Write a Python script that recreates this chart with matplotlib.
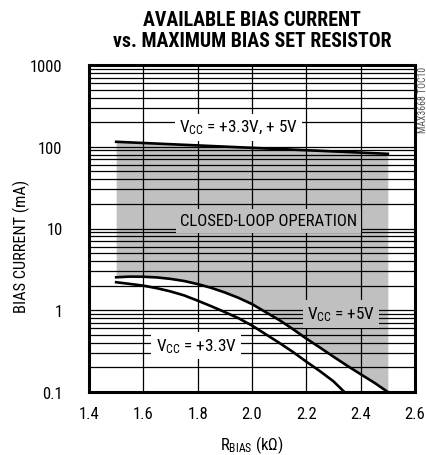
import numpy as np
import matplotlib
matplotlib.use("Agg")
import matplotlib.pyplot as plt
from matplotlib.ticker import FixedLocator, LogLocator, NullFormatter

plt.rcParams['font.family'] = ['Roboto Condensed', 'Liberation Sans', 'DejaVu Sans']
plt.rcParams['mathtext.fontset'] = 'custom'
plt.rcParams['mathtext.rm'] = 'Roboto Condensed'
plt.rcParams['mathtext.it'] = 'Roboto Condensed'

# upper limit (both supplies)
r_upper = [1.5, 2.0, 2.5]
i_upper = [115, 97, 82]

# Vcc = +5V lower limit
r_5v = [1.5, 1.55, 1.6, 1.65, 1.7, 1.75, 1.8, 1.85, 1.9, 1.95, 2.0,
        2.05, 2.1, 2.15, 2.2, 2.25, 2.3, 2.35, 2.4, 2.45, 2.5]
i_5v = [2.53, 2.58, 2.57, 2.52, 2.42, 2.28, 2.09, 1.88, 1.65, 1.42, 1.19,
        0.95, 0.76, 0.59, 0.45, 0.35, 0.27, 0.21, 0.165, 0.13, 0.10]

# Vcc = +3.3V lower limit
r_33v = [1.5, 1.55, 1.6, 1.65, 1.7, 1.75, 1.8, 1.85, 1.9, 1.95, 2.0,
         2.05, 2.1, 2.15, 2.2, 2.25, 2.3, 2.34]
i_33v = [2.2, 2.1, 2.0, 1.86, 1.7, 1.52, 1.31, 1.12, 0.95, 0.80, 0.65,
         0.51, 0.40, 0.31, 0.235, 0.18, 0.135, 0.10]

x_ticks = [1.4, 1.6, 1.8, 2.0, 2.2, 2.4, 2.6]
y_ticks = [0.1, 1, 10, 100, 1000]
y_labels = ['0.1', '1', '10', '100', '1000']

fig = plt.figure(figsize=(4.27, 4.56), dpi=100)
ax = fig.add_axes([89/427, 1 - 393/456, 326/427, 327/456])

# shaded closed-loop region between the +5V curve and the upper limit
r_fill = np.array(r_5v)
i_top = np.interp(r_fill, r_upper, i_upper)
ax.fill_between(r_fill, i_5v, i_top, color='#c0c0c0', linewidth=0, zorder=0.5)

ax.plot(r_upper, i_upper, color='black', lw=1.9, zorder=2)
ax.plot(r_5v, i_5v, color='black', lw=1.9, zorder=2)
ax.plot(r_33v, i_33v, color='black', lw=1.9, zorder=2)

ax.set_yscale('log')
ax.set_xlim(1.4, 2.6)
ax.set_ylim(0.1, 1000)
ax.xaxis.set_major_locator(FixedLocator(x_ticks))
ax.set_xticklabels([f'{v:.1f}' for v in x_ticks])
ax.yaxis.set_major_locator(FixedLocator(y_ticks))
ax.set_yticklabels(y_labels)
ax.yaxis.set_minor_locator(LogLocator(base=10, subs=np.arange(2, 10)))
ax.yaxis.set_minor_formatter(NullFormatter())
ax.tick_params(which='both', length=0, labelsize=12)
ax.tick_params(axis='y', pad=19)
ax.tick_params(axis='x', pad=10)
ax.grid(which='both', axis='both', color='black', lw=0.9)

for s in ax.spines.values():
    s.set_linewidth(2.2)

box_w = dict(boxstyle='square,pad=0.25', fc='white', ec='none')
box_g = dict(boxstyle='square,pad=0.25', fc='#c0c0c0', ec='none')
ax.text(1.95, 174, r'V$_\mathregular{CC}$ = +3.3V, + 5V', fontsize=12.3,
        ha='center', va='center', bbox=box_w, zorder=3)
ax.text(2.06, 12.4, 'CLOSED-LOOP OPERATION', fontsize=12,
        ha='center', va='center', bbox=box_g, zorder=3)
ax.text(2.327, 0.90, r'V$_\mathregular{CC}$ = +5V', fontsize=12.3,
        ha='center', va='center', bbox=box_g, zorder=3)
ax.text(1.794, 0.368, r'V$_\mathregular{CC}$ = +3.3V', fontsize=12.3,
        ha='center', va='center', bbox=box_w, zorder=3)

ax.set_xlabel(r'R$_\mathregular{BIAS}$ (k$\Omega$)', fontsize=12, va='center')
ax.xaxis.set_label_coords(0.5, -0.159)
ax.set_ylabel('BIAS CURRENT (mA)', fontsize=11.8, va='center')
ax.yaxis.set_label_coords(-0.206, 0.448)

fig.text(252/427, 0.956, 'AVAILABLE BIAS CURRENT', fontsize=14.3, fontweight='bold',
         ha='center', va='center')
fig.text(252/427, 0.908, 'vs. MAXIMUM BIAS SET RESISTOR', fontsize=14.3, fontweight='bold',
         ha='center', va='center')
fig.text(0.991, 1 - 67/456, 'MAX3668 TOC10', fontsize=7, color='#555555', rotation=90,
         ha='center', va='top')

fig.savefig('out.png', dpi=100)
